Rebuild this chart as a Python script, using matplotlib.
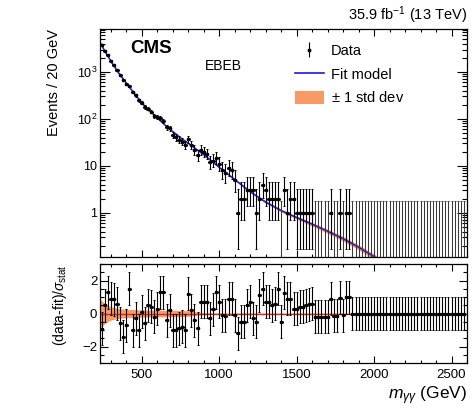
import numpy as np
import matplotlib
matplotlib.use("Agg")
import matplotlib.pyplot as plt
from matplotlib.lines import Line2D
from matplotlib.patches import Patch
from matplotlib.ticker import FixedLocator, MultipleLocator, NullFormatter, FixedFormatter

plt.rcParams['font.family'] = ['Liberation Sans', 'DejaVu Sans']
plt.rcParams['mathtext.fontset'] = 'custom'
plt.rcParams['mathtext.rm'] = 'Liberation Sans'
plt.rcParams['mathtext.it'] = 'Liberation Sans:italic'
plt.rcParams['mathtext.bf'] = 'Liberation Sans:bold'

# ---------------- data ----------------
bin_start = 230
bin_width = 20
counts = [3658, 2845, 2249, 1735, 1380, 1092, 845, 668, 558, 507,
          371, 317, 249, 220, 179, 166, 143, 118, 108, 103,
          91, 66, 63, 46, 41, 36, 33, 28, 37, 28,
          22, 17, 22, 20, 18, 12, 13, 15, 11, 8,
          7, 9, 8, 5,
          1, 2, 2, 3, 3, 3, 1, 2, 4, 3, 2, 2, 2, 2, 0, 3, 1, 2, 2, 1, 1, 1, 1, 1, 1,
          0, 0, 0, 0, 0, 1, 0, 0, 1, 0, 1, 1] + [0] * 37
pulls = [-0.93, 0.5, 1.3, 0.9, 0.85, 0.6, -0.6, -1.4, -0.7, 1.5,
         -1.0, -0.3, -1.0, 0.1, -0.6, 0.5, 0.4, -0.2, 0.3, 1.3,
         1.3, -0.4, 0.2, -1.0, -1.0, -0.9, -0.8, -1.0, 1.2, 0.2,
         -0.4, -0.9, 0.7, 0.7, 0.7, -0.3, 0.25, 1.3, 0.7, -0.1,
         -0.15, 0.9, 0.9, -0.1,
         -1.2, -0.5, -0.5, 0.5, 0.7, -0.3, -0.5, 1.1, 1.5, 0.7, 0.7, 0.5, 0.6, 1.5,
         -0.5, 1.25, 0.9, 0.9, 0.3, 0.3, 0.4, 0.4, 0.5, 0.55, 0.6,
         -0.2, -0.2, -0.2, -0.2, -0.2, 0.9, -0.15, -0.15, 0.95, -0.1, 1.0, 1.0] + [0.0] * 37

fit_mass = [230, 260, 300, 350, 400, 450, 500, 550, 600, 650, 700, 750, 800, 900,
            1000, 1100, 1200, 1300, 1400, 1500, 1600, 1700, 1800, 1900, 2000, 2050]
fit_vals = [4270, 2820, 1700, 955, 575, 355, 219, 148, 105, 74, 53.7, 39.8, 30.2, 17.4,
            9.33, 5.13, 2.82, 1.70, 1.12, 0.794, 0.575, 0.407, 0.282, 0.186, 0.117, 0.093]
fit_rel_unc = [0.04, 0.03, 0.025, 0.02, 0.02, 0.02, 0.02, 0.02, 0.02, 0.02, 0.025, 0.03, 0.03, 0.035,
               0.04, 0.045, 0.05, 0.06, 0.07, 0.08, 0.09, 0.10, 0.11, 0.12, 0.13, 0.13]

band_mass = [230, 250, 270, 300, 350, 400, 500, 600, 700, 800, 850, 900, 1000, 2600]
band_sigma = [0.85, 0.7, 0.55, 0.4, 0.3, 0.25, 0.22, 0.2, 0.2, 0.17, 0.1, 0.05, 0.03, 0.02]

x_min, x_max = 230, 2600

# ---------------- derived ----------------
counts = np.array(counts, dtype=float)
pulls = np.array(pulls, dtype=float)
centers = bin_start + bin_width * (np.arange(len(counts)) + 0.5)
half = bin_width / 2.0

# Poisson (Garwood, Wilson-Hilferty approx.) intervals
n = counts
nn = np.maximum(n, 1)
low = np.where(n > 0, n * (1 - 1 / (9 * nn) - 1 / (3 * np.sqrt(nn))) ** 3, 0)
up = (n + 1) * (1 - 1 / (9 * (n + 1)) + 1 / (3 * np.sqrt(n + 1))) ** 3

fit_mass = np.array(fit_mass, float)
fit_vals = np.array(fit_vals, float)
fit_rel_unc = np.array(fit_rel_unc, float)

# ---------------- figure ----------------
fig = plt.figure(figsize=(4.72, 4.11), dpi=100)
W, H = 472.0, 411.0
ax1 = fig.add_axes([100 / W, 1 - 257 / H, 367 / W, 228 / H])
ax2 = fig.add_axes([100 / W, 1 - 363 / H, 367 / W, 99 / H])

orange = '#f89a66'
blue = '#1a1ae0'
ymin, ymax = 0.115, 8200
ebar_kw = dict(fmt='o', ms=1.6, color='black', ecolor='black', elinewidth=0.8,
               capsize=0.9, capthick=0.7)

# top panel
ax1.fill_between(fit_mass, fit_vals * (1 - fit_rel_unc), fit_vals * (1 + fit_rel_unc),
                 color=orange, lw=0, zorder=1)
ax1.plot(fit_mass, fit_vals, color=blue, lw=1.1, zorder=2)

nz = n > 0
ax1.errorbar(centers[nz], n[nz], yerr=[n[nz] - low[nz], up[nz] - n[nz]], xerr=half,
             zorder=3, **ebar_kw)
z = ~nz
ax1.vlines(centers[z], 1e-3, up[z], color='#3a3a3a', lw=0.75, zorder=3)
ax1.plot(centers[z], up[z], '_', ms=1.8, mew=0.7, color='#3a3a3a', zorder=3)

ax1.set_yscale('log')
ax1.set_xlim(x_min, x_max)
ax1.set_ylim(ymin, ymax)
ax1.yaxis.set_major_locator(FixedLocator([1, 10, 100, 1000]))
ax1.yaxis.set_major_formatter(FixedFormatter(['1', '10', '$10^{2}$', '$10^{3}$']))
ax1.yaxis.set_minor_locator(FixedLocator([m * 10.0 ** e for e in range(-1, 4) for m in range(2, 10)]))
ax1.yaxis.set_minor_formatter(NullFormatter())
ax1.xaxis.set_major_locator(MultipleLocator(500))
ax1.xaxis.set_minor_locator(MultipleLocator(100))
ax1.xaxis.set_major_formatter(NullFormatter())
ax1.tick_params(which='both', direction='in', top=True, right=True, width=0.8)
ax1.tick_params(axis='y', which='major', length=7, labelsize=9, pad=2)
ax1.tick_params(axis='y', which='minor', length=3.5)
ax1.tick_params(axis='x', which='major', length=5)
ax1.tick_params(axis='x', which='minor', length=2.5)
ax1.set_ylabel('Events / 20 GeV', fontsize=10.5, loc='top')
ax1.yaxis.set_label_coords(-0.105, 1.0)

ax1.text(0.082, 0.915, 'CMS', transform=ax1.transAxes, fontsize=13.5, fontweight='bold',
         ha='left', va='center')
ax1.text(0.287, 0.838, 'EBEB', transform=ax1.transAxes, fontsize=10, ha='left', va='center')
ax1.text(1.0, 1.015, '35.9 fb$^{-1}$ (13 TeV)', transform=ax1.transAxes, fontsize=10.5,
         ha='right', va='bottom')

h_data = ax1.errorbar([], [], yerr=[], fmt='o', ms=1.8, color='black', elinewidth=0.8)
h_fit = Line2D([], [], color=blue, lw=1.2)
h_band = Patch(facecolor=orange, edgecolor='none')
ax1.legend([h_data, h_fit, h_band], ['Data', 'Fit model', r'$\pm$ 1 std dev'],
           loc='upper left', bbox_to_anchor=(0.53, 0.935), frameon=False,
           fontsize=10.5, handlelength=2.0, handleheight=1.0, handletextpad=0.5,
           labelspacing=0.6, borderpad=0, borderaxespad=0)

# bottom panel
ax2.fill_between(band_mass, -np.array(band_sigma), band_sigma, color=orange, lw=0, zorder=1)
ax2.axhline(0, color='#e02a1a', lw=1.0, zorder=2)
ax2.errorbar(centers, pulls, yerr=1.0, xerr=half, zorder=3, **ebar_kw)
ax2.set_xlim(x_min, x_max)
ax2.set_ylim(-3, 3)
ax2.yaxis.set_major_locator(FixedLocator([-2, 0, 2]))
ax2.yaxis.set_minor_locator(MultipleLocator(0.5))
ax2.xaxis.set_major_locator(MultipleLocator(500))
ax2.xaxis.set_minor_locator(MultipleLocator(100))
ax2.tick_params(which='both', direction='in', top=True, right=True, width=0.8)
ax2.tick_params(axis='y', which='major', length=6, labelsize=9.5, pad=2)
ax2.tick_params(axis='y', which='minor', length=3)
ax2.tick_params(axis='x', which='major', length=5, labelsize=9.5, pad=4)
ax2.tick_params(axis='x', which='minor', length=2.5)
ax2.set_ylabel(r'(data-fit)/$\sigma_{\rm stat}$', fontsize=10, loc='top')
ax2.yaxis.set_label_coords(-0.085, 1.0)
ax2.set_xlabel(r'$m_{\gamma\gamma}$ (GeV)', fontsize=12.5, loc='right')
ax2.xaxis.set_label_coords(1.0, -0.22)

for ax in (ax1, ax2):
    for s in ax.spines.values():
        s.set_linewidth(0.9)

fig.savefig('out.png', dpi=100)
